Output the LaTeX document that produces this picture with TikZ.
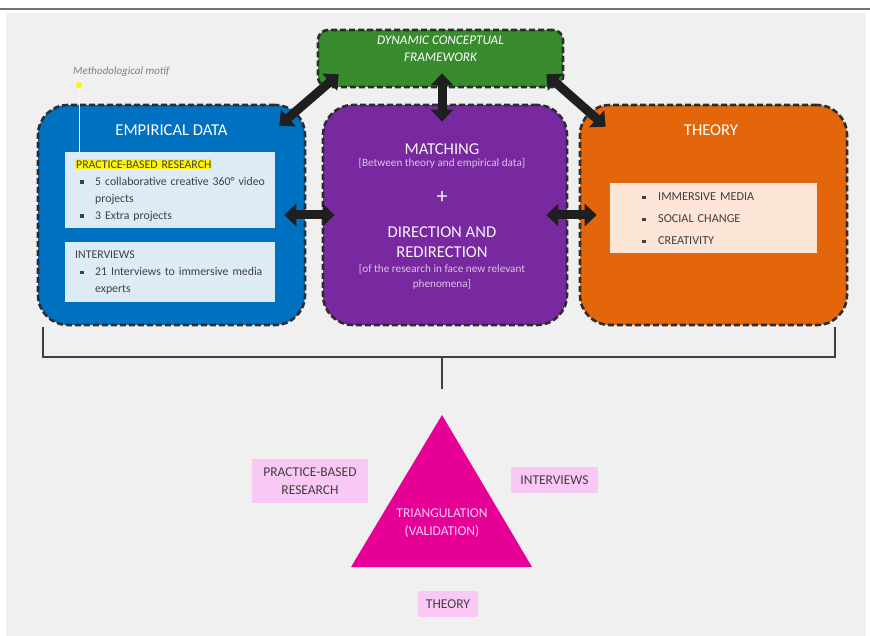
\documentclass[tikz,border=0pt]{standalone}
\usepackage{fontspec}
\setmainfont{Carlito}
\usepackage{tikz}
\usetikzlibrary{arrows.meta}
\usepackage{xcolor}
\definecolor{ColBg}{RGB}{240,240,240}
\definecolor{ColEmp}{RGB}{0,112,192}
\definecolor{ColMatch}{RGB}{121,41,160}
\definecolor{ColTheo}{RGB}{228,102,10}
\definecolor{ColFrame}{RGB}{56,140,46}
\definecolor{ColTri}{RGB}{230,0,150}
\definecolor{ColLab}{RGB}{250,200,245}
\definecolor{ColEmpIn}{RGB}{221,235,247}
\definecolor{ColTheoIn}{RGB}{252,228,214}
\definecolor{ColTxt}{RGB}{64,64,64}
\definecolor{ColBorder}{RGB}{45,45,45}
\definecolor{ColHi}{RGB}{255,245,0}
\newcommand{\Sq}{\rule[0.2ex]{3.5pt}{3.5pt}}
\newcommand{\HiLite}[1]{{\setlength{\fboxsep}{1pt}\colorbox{ColHi}{#1}}}
\tikzstyle{BoxMain}=[rectangle,rounded corners=30pt,draw=ColBorder,line width=2.6pt,
dash pattern=on 6pt off 3pt,inner sep=0pt]
\tikzstyle{BoxInner}=[rectangle,anchor=north west,inner xsep=10pt,inner ysep=0pt,text=ColTxt,
text width=190pt,align=left,font=\fontsize{11.8}{17}\selectfont]
\tikzstyle{TitleMain}=[inner sep=0pt,text=white!94!ColMatch,font=\fontsize{16.6}{20}\selectfont,align=center]
\tikzstyle{SubMain}=[inner sep=0pt,text=white!72!ColMatch,font=\fontsize{11.2}{15}\selectfont,align=center]
\tikzstyle{ArrowBig}=[draw=black!88,line width=9pt,{Triangle[width=22pt,length=12pt]}-{Triangle[width=22pt,length=12pt]}]
\tikzstyle{Bracket}=[draw=black!75,line width=1.8pt]
\tikzstyle{LabelTri}=[rectangle,fill=ColLab,inner sep=0pt,text=ColTxt,align=center,
font=\fontsize{13.5}{18}\selectfont]

\begin{document}
\begin{tikzpicture}[x=1pt,y=-1pt]
        \useasboundingbox(0,0)rectangle(870,636);
        \fill[white](0,0)rectangle(870,636);
        \fill[ColBg](6,13)rectangle(866,636);
        \draw[black!55,line width=1.5pt](0,9)--(870,9);
        % the three columns and the framework
        \node[BoxMain,fill=ColEmp,minimum width=267pt,minimum height=220pt](emp)at(171.5,215){};
        \node[BoxMain,fill=ColMatch,minimum width=244pt,minimum height=220pt](match)at(445,215){};
        \node[BoxMain,fill=ColTheo,minimum width=267pt,minimum height=220pt](theo)at(713.5,215){};
        \node[BoxMain,fill=ColFrame,rounded corners=10pt,minimum width=245pt,minimum height=57pt](frame)at(440.5,58.5){};
        \node[TitleMain,text=white,font=\itshape\fontsize{13.2}{17}\selectfont](frametxt)at(440.5,48.5){DYNAMIC CONCEPTUAL\\FRAMEWORK};
        % empirical data
        \node[TitleMain,text=white](emptitle)at(171.5,130){EMPIRICAL DATA};
        \node[BoxInner,fill=ColEmpIn,minimum width=210pt,minimum height=76pt](pbr)at(65,152){%
          \begin{tabular}{@{\hspace{5pt}}p{15pt}@{}l@{}}
          \multicolumn{2}{@{}l@{}}{\HiLite{PRACTICE-BASED RESEARCH}}\\
          \Sq & 5 collaborative creative 360° video\\
              & projects\\
          \Sq & 3 Extra projects
          \end{tabular}};
        \node[BoxInner,fill=ColEmpIn,minimum width=210pt,minimum height=60pt](intv)at(65,242){%
          \begin{tabular}{@{\hspace{5pt}}p{15pt}@{}l@{}}
          \multicolumn{2}{@{}l@{}}{INTERVIEWS}\\
          \Sq & 21 Interviews to immersive media\\
              & experts
          \end{tabular}};
        \node[circle,fill=ColHi,inner sep=0pt,minimum size=6pt](motifdot)at(79,85){};
        \node[anchor=west,inner sep=0pt,text=black!50,font=\itshape\fontsize{11}{12}\selectfont](motif)at(73,72){Methodological motif};
        \draw[ColHi!25!white,line width=0.8pt](motifdot)--(motifdot|-pbr.north);
        % matching
        \node[TitleMain](matchtitle)at(442,149){MATCHING};
        \node[SubMain](matchsub)at(442,163.5){[Between theory and empirical data]};
        \node[TitleMain,font=\fontsize{22}{22}\selectfont](plus)at(442,197){+};
        \node[TitleMain](dirtitle)at(442,242){DIRECTION AND\\REDIRECTION};
        \node[SubMain](dirsub)at(442,276.5){[of the research in face new relevant\\phenomena]};
        % theory
        \node[TitleMain,text=white](theotitle)at(711,130){THEORY};
        \node[BoxInner,fill=ColTheoIn,minimum width=207pt,minimum height=70pt,inner xsep=0pt,
          text width=207pt,font=\fontsize{12.2}{22}\selectfont](theoin)at(610,183){%
          \begin{tabular}{@{\hspace{32pt}}p{16pt}@{}l@{}}
          \Sq & IMMERSIVE MEDIA\\
          \Sq & SOCIAL CHANGE\\
          \Sq & CREATIVITY
          \end{tabular}};
        % connections
        \draw[ArrowBig]([xshift=22pt,yshift=14pt]frame.south west)--([xshift=-27pt,yshift=-22pt]emp.north east);
        \draw[ArrowBig]([xshift=1.5pt,yshift=15pt]frame.south)--([xshift=-3pt,yshift=-18pt]match.north);
        \draw[ArrowBig]([xshift=-18pt,yshift=14pt]frame.south east)--([xshift=27pt,yshift=-23pt]theo.north west);
        \draw[ArrowBig]([xshift=-22pt]emp.east)--([xshift=13pt]match.west);
        \draw[ArrowBig]([xshift=-22pt]match.east)--([xshift=18pt]theo.west);
        % bracket
        \coordinate(brL)at(43,327);
        \coordinate(brR)at(835,327);
        \coordinate(brM)at(442,357);
        \coordinate(brS)at(442,389);
        \draw[Bracket](brL)|-(brM)-|(brR);
        \draw[Bracket](brM)--(brS);
        % triangulation
        \fill[ColTri](442,415)--(532,567)--(351,567)--cycle;
        \node[align=center,inner sep=0pt,text=ColLab!90!white,font=\fontsize{13.5}{18}\selectfont](tri)at(442,523){TRIANGULATION\\(VALIDATION)};
        \node[LabelTri,minimum width=116pt,minimum height=44pt](labpbr)at(310,481){PRACTICE-BASED\\RESEARCH};
        \node[LabelTri,minimum width=87pt,minimum height=26pt](labint)at(554.5,480){INTERVIEWS};
        \node[LabelTri,minimum width=60pt,minimum height=26pt](labtheo)at(448,604){THEORY};
    \end{tikzpicture}
\end{document}
